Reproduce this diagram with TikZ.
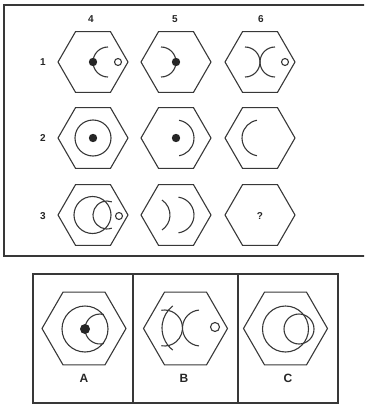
\documentclass[tikz,border=0pt]{standalone}
\usepackage{fontspec}
\setmainfont{Liberation Sans}
\newcommand\hexag[3]{\draw[ln] (#1,#2) +(0:#3) -- +(60:#3) -- +(120:#3) -- +(180:#3) -- +(240:#3) -- +(300:#3) -- cycle;}
\newcommand\arcc[5]{\draw[ln] (#1,#2) ++(#4:#3) arc[start angle=#4, end angle=#5, radius=#3];}
\newcommand\ring[3]{\draw[ln] (#1,#2) circle[radius=#3];}
\newcommand\blob[3]{\fill[black!85] (#1,#2) circle[radius=#3];}
\tikzset{
  ln/.style={line width=1.1pt, draw=black!78},
  frame/.style={line width=1.6pt, draw=black!78},
  lab/.style={font=\bfseries\fontsize{10}{11}\selectfont, text=black!85, inner sep=0pt},
  biglab/.style={font=\bfseries\fontsize{12}{13}\selectfont, text=black!85, inner sep=0pt}
}
\begin{document}
\begin{tikzpicture}[x=1pt,y=-1pt]
\useasboundingbox (0,0) rectangle (364,404);
\clip (0,0) rectangle (364,404);
% top frame
\draw[frame] (370,5) -- (4,5) -- (4,256) -- (370,256);
% column and row labels
\node[lab] (c4) at (91,19) {4};
\node[lab] (c5) at (175,19) {5};
\node[lab] (c6) at (261,19) {6};
\node[lab] (r1) at (43,62) {1};
\node[lab] (r2) at (43,138) {2};
\node[lab] (r3) at (43,216) {3};
% hexagons
\foreach \y in {62,138,215} {
  \foreach \x in {93,176,260} {
    \hexag{\x}{\y}{35}
  }
}
% row 1
\arcc{108}{62}{15}{90}{270}
\blob{93}{62}{4.2}
\ring{118}{62}{3.5}
\arcc{161}{62}{15}{-90}{90}
\blob{176}{62}{4.2}
\arcc{245}{62}{15}{-90}{90}
\arcc{275}{62}{15}{90}{270}
\ring{285}{62}{3.5}
% row 2
\ring{93}{138}{18}
\blob{93}{138}{4.2}
\arcc{176}{138}{18}{-80}{80}
\blob{176}{138}{4.2}
\arcc{260}{138}{18}{100}{260}
% row 3
\ring{92.5}{215}{18.5}
\arcc{107}{215}{14}{70}{290}
\ring{119}{216}{3.5}
\arcc{152}{215}{18}{-56}{56}
\arcc{176}{215}{18}{-82}{82}
\node[lab] (q) at (260,216) {?};
% answer box
\draw[frame] (33,274) rectangle (338,403);
\draw[frame] (133,274) -- (133,403);
\draw[frame] (238,274) -- (238,403);
\hexag{84}{328.5}{42}
\hexag{185.5}{328.5}{42}
\hexag{285.5}{328.5}{42}
% A
\ring{85}{329}{23}
\arcc{100}{329}{15}{75}{285}
\blob{85}{329}{5}
% B
\arcc{190}{328}{28}{128}{232}
\arcc{164.5}{328}{18}{-100}{100}
\arcc{200.5}{328}{18}{95}{265}
\ring{215}{327}{4.5}
% C
\ring{285.5}{329}{23}
\ring{299}{329}{15}
\node[biglab] (la) at (84,378) {A};
\node[biglab] (lb) at (184,378) {B};
\node[biglab] (lc) at (288,378) {C};
\end{tikzpicture}
\end{document}
